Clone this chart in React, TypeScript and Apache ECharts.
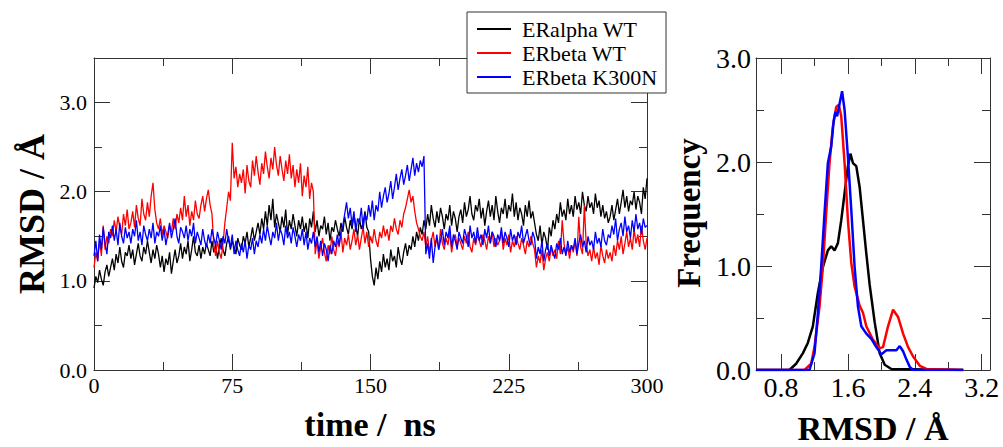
import React, { useEffect, useRef } from 'react';
import * as echarts from 'echarts';

// ---- Time series (RMSD, Å), sampled every TIME_STEP ns from 0 to 300 ns ----
const TIME_STEP = 1;
const seriesNames = ['ERalpha WT', 'ERbeta WT', 'ERbeta K300N'];
const seriesColors = ['#000000', '#ff0000', '#0000ff'];

const eralphaWT = [
  0.92, 1.05, 0.98, 1.12, 1.02, 0.95, 1.10, 1.18, 1.05, 1.15,
  1.25, 1.12, 1.30, 1.20, 1.38, 1.22, 1.15, 1.32, 1.28, 1.40,
  1.25, 1.35, 1.18, 1.30, 1.42, 1.28, 1.22, 1.38, 1.30, 1.45,
  1.32, 1.20, 1.35, 1.25, 1.40, 1.30, 1.15, 1.28, 1.10, 1.25,
  1.18, 1.32, 1.08, 1.22, 1.35, 1.20, 1.28, 1.42, 1.25, 1.38,
  1.30, 1.45, 1.22, 1.35, 1.50, 1.32, 1.28, 1.40, 1.25, 1.38,
  1.30, 1.42, 1.35, 1.28, 1.45, 1.32, 1.40, 1.25, 1.38, 1.48,
  1.35, 1.28, 1.42, 1.50, 1.35, 1.45, 1.38, 1.30, 1.48, 1.40,
  1.35, 1.50, 1.42, 1.55, 1.38, 1.48, 1.60, 1.45, 1.55, 1.65,
  1.52, 1.70, 1.58, 1.78, 1.62, 1.85, 1.68, 1.92, 1.60, 1.75,
  1.65, 1.55, 1.72, 1.60, 1.80, 1.52, 1.68, 1.58, 1.75, 1.62,
  1.50, 1.68, 1.58, 1.72, 1.55, 1.65, 1.48, 1.70, 1.60, 1.78,
  1.55, 1.68, 1.50, 1.62, 1.58, 1.72, 1.52, 1.65, 1.45, 1.60,
  1.55, 1.68, 1.58, 1.50, 1.65, 1.55, 1.72, 1.60, 1.52, 1.68,
  1.58, 1.75, 1.62, 1.50, 1.70, 1.58, 1.65, 1.78, 1.60, 1.55,
  1.25, 1.05, 0.95, 1.15, 1.02, 1.22, 1.10, 1.30, 1.15, 1.25,
  1.12, 1.35, 1.22, 1.28, 1.15, 1.38, 1.25, 1.18, 1.32, 1.42,
  1.28, 1.40, 1.35, 1.50, 1.38, 1.55, 1.45, 1.60, 1.52, 1.68,
  1.58, 1.75, 1.62, 1.85, 1.70, 1.60, 1.78, 1.65, 1.82, 1.72,
  1.58, 1.75, 1.68, 1.85, 1.62, 1.78, 1.70, 1.55, 1.72, 1.80,
  1.65, 1.88, 1.72, 1.80, 1.95, 1.75, 1.68, 1.85, 1.78, 1.92,
  1.70, 1.82, 1.62, 1.78, 1.90, 1.72, 1.85, 1.68, 1.95, 1.78,
  1.65, 1.82, 1.75, 1.92, 1.70, 1.85, 1.78, 1.98, 1.72, 1.88,
  1.68, 1.82, 1.75, 1.62, 1.85, 1.72, 1.90, 1.70, 1.78, 1.65,
  1.52, 1.45, 1.62, 1.40, 1.55, 1.48, 1.35, 1.60, 1.50, 1.68,
  1.58, 1.75, 1.65, 1.88, 1.72, 1.80, 1.68, 1.92, 1.75, 1.85,
  1.72, 1.95, 1.80, 1.88, 1.75, 2.00, 1.85, 1.78, 1.95, 1.82,
  1.88, 1.75, 1.98, 1.82, 1.90, 1.72, 1.85, 1.70, 1.78, 1.65,
  1.72, 1.85, 1.68, 1.80, 1.92, 1.75, 1.88, 2.02, 1.82, 1.95,
  1.78, 1.90, 1.85, 2.00, 1.80, 1.95, 1.88, 1.75, 2.05, 1.92,
  2.15,
];

const erbetaWT = [
  1.15, 1.32, 1.22, 1.45, 1.28, 1.62, 1.35, 1.50, 1.42, 1.58,
  1.50, 1.68, 1.55, 1.72, 1.60, 1.52, 1.75, 1.62, 1.80, 1.58,
  1.65, 1.78, 1.60, 1.85, 1.70, 1.62, 1.92, 1.75, 1.68, 1.88,
  1.72, 1.95, 2.10, 1.80, 1.65, 1.58, 1.70, 1.52, 1.62, 1.55,
  1.48, 1.62, 1.55, 1.70, 1.58, 1.75, 1.65, 1.82, 1.68, 1.95,
  1.72, 1.85, 1.62, 1.78, 1.68, 1.90, 1.75, 1.70, 1.85, 1.95,
  1.78, 1.92, 2.02, 1.85, 1.75, 1.40, 1.28, 1.45, 1.32, 1.25,
  1.42, 1.65, 1.82, 2.00, 1.90, 2.55, 2.15, 2.28, 2.05, 2.20,
  2.10, 2.25, 1.98, 2.30, 2.12, 2.05, 2.35, 2.18, 2.40, 2.22,
  2.08, 2.32, 2.20, 2.45, 2.28, 2.15, 2.38, 2.25, 2.50, 2.30,
  2.18, 2.40, 2.25, 2.12, 2.35, 2.20, 2.42, 2.15, 2.30, 2.05,
  2.25, 2.10, 2.32, 1.95, 2.18, 2.05, 2.28, 1.92, 2.10, 2.00,
  1.30, 1.45, 1.25, 1.38, 1.48, 1.32, 1.22, 1.40, 1.30, 1.50,
  1.35, 1.28, 1.45, 1.38, 1.55, 1.32, 1.48, 1.40, 1.52, 1.35,
  1.45, 1.58, 1.40, 1.52, 1.35, 1.48, 1.60, 1.42, 1.55, 1.38,
  1.50, 1.42, 1.58, 1.45, 1.38, 1.55, 1.48, 1.62, 1.50, 1.58,
  1.45, 1.62, 1.55, 1.70, 1.58, 1.52, 1.68, 1.60, 1.75, 1.82,
  1.92, 2.02, 1.88, 1.95, 1.78, 1.65, 1.58, 1.50, 1.45, 1.55,
  1.38, 1.50, 1.32, 1.45, 1.55, 1.38, 1.48, 1.35, 1.58, 1.42,
  1.35, 1.48, 1.40, 1.55, 1.32, 1.45, 1.52, 1.38, 1.48, 1.42,
  1.35, 1.50, 1.42, 1.55, 1.38, 1.32, 1.48, 1.40, 1.52, 1.45,
  1.38, 1.52, 1.45, 1.35, 1.50, 1.42, 1.55, 1.38, 1.48, 1.40,
  1.45, 1.55, 1.35, 1.48, 1.40, 1.52, 1.32, 1.45, 1.38, 1.50,
  1.42, 1.35, 1.48, 1.40, 1.30, 1.45, 1.38, 1.50, 1.42, 1.35,
  1.15, 1.28, 1.20, 1.35, 1.12, 1.25, 1.32, 1.22, 1.38, 1.28,
  1.35, 1.25, 1.45, 1.30, 1.68, 1.42, 1.30, 1.38, 1.25, 1.40,
  1.32, 1.45, 1.28, 1.72, 1.38, 1.30, 1.85, 1.42, 1.28, 1.35,
  1.22, 1.38, 1.25, 1.32, 1.18, 1.40, 1.28, 1.20, 1.35, 1.25,
  1.32, 1.22, 1.40, 1.28, 1.45, 1.35, 1.50, 1.30, 1.42, 1.55,
  1.38, 1.48, 1.35, 1.58, 1.42, 1.52, 1.38, 1.62, 1.45, 1.35,
  1.48,
];

const erbetaK300N = [
  1.28, 1.45, 1.22, 1.52, 1.35, 1.60, 1.42, 1.30, 1.55, 1.48,
  1.62, 1.45, 1.58, 1.40, 1.65, 1.50, 1.42, 1.60, 1.48, 1.55,
  1.42, 1.58, 1.50, 1.68, 1.45, 1.55, 1.40, 1.62, 1.52, 1.45,
  1.58, 1.48, 1.65, 1.42, 1.55, 1.50, 1.62, 1.45, 1.58, 1.40,
  1.52, 1.65, 1.48, 1.58, 1.70, 1.50, 1.42, 1.60, 1.55, 1.48,
  1.62, 1.45, 1.58, 1.50, 1.65, 1.42, 1.55, 1.48, 1.40, 1.58,
  1.45, 1.38, 1.52, 1.42, 1.58, 1.48, 1.40, 1.55, 1.45, 1.35,
  1.50, 1.42, 1.58, 1.45, 1.38, 1.52, 1.30, 1.45, 1.35, 1.28,
  1.42, 1.32, 1.45, 1.25, 1.40, 1.35, 1.48, 1.30, 1.45, 1.38,
  1.52, 1.42, 1.58, 1.45, 1.62, 1.50, 1.40, 1.55, 1.48, 1.65,
  1.45, 1.58, 1.52, 1.40, 1.62, 1.48, 1.55, 1.42, 1.60, 1.50,
  1.38, 1.52, 1.45, 1.58, 1.40, 1.55, 1.35, 1.48, 1.42, 1.55,
  1.38, 1.50, 1.32, 1.45, 1.28, 1.42, 1.35, 1.22, 1.40, 1.30,
  1.45, 1.38, 1.52, 1.40, 1.55, 1.62, 1.75, 1.88, 1.70, 1.82,
  1.62, 1.78, 1.55, 1.70, 1.65, 1.82, 1.58, 1.75, 1.68, 1.85,
  1.72, 1.90, 1.68, 1.85, 1.78, 2.00, 1.82, 1.95, 2.05, 1.88,
  1.98, 2.12, 1.92, 2.05, 2.20, 2.02, 2.15, 2.25, 2.08, 2.18,
  2.30, 2.12, 2.25, 2.38, 2.18, 2.32, 2.22, 2.35, 2.28, 2.40,
  1.30, 1.42, 1.25, 1.48, 1.20, 1.38, 1.52, 1.35, 1.45, 1.58,
  1.40, 1.55, 1.48, 1.62, 1.38, 1.52, 1.45, 1.35, 1.55, 1.48,
  1.42, 1.58, 1.50, 1.38, 1.62, 1.48, 1.55, 1.42, 1.60, 1.45,
  1.52, 1.40, 1.58, 1.48, 1.62, 1.42, 1.55, 1.50, 1.38, 1.52,
  1.45, 1.60, 1.42, 1.55, 1.48, 1.38, 1.58, 1.45, 1.52, 1.40,
  1.55, 1.48, 1.62, 1.42, 1.50, 1.58, 1.45, 1.40, 1.55, 1.48,
  1.25, 1.38, 1.30, 1.45, 1.22, 1.35, 1.42, 1.28, 1.40, 1.32,
  1.25, 1.42, 1.35, 1.48, 1.30, 1.38, 1.28, 1.45, 1.32, 1.40,
  1.35, 1.48, 1.30, 1.42, 1.52, 1.38, 1.45, 1.32, 1.50, 1.40,
  1.45, 1.35, 1.55, 1.42, 1.48, 1.38, 1.58, 1.45, 1.40, 1.52,
  1.48, 1.62, 1.52, 1.70, 1.45, 1.58, 1.65, 1.50, 1.72, 1.55,
  1.62, 1.48, 1.68, 1.55, 1.75, 1.58, 1.65, 1.52, 1.70, 1.60,
  1.62,
];

// ---- RMSD distributions (Frequency vs RMSD, Å) ----
const alphaDistX = [0.5, 0.9, 0.98, 1.06, 1.12, 1.18, 1.24, 1.30, 1.36, 1.40, 1.44, 1.48, 1.52, 1.56, 1.60, 1.63, 1.66, 1.70, 1.74, 1.78, 1.82, 1.86, 1.92, 1.98, 2.04, 2.12, 2.98];
const alphaDistY = [0, 0, 0.06, 0.16, 0.26, 0.42, 0.74, 0.99, 1.15, 1.19, 1.15, 1.22, 1.44, 1.70, 1.96, 2.08, 1.99, 1.96, 1.76, 1.44, 1.12, 0.82, 0.46, 0.16, 0.05, 0.01, 0];

const betaDistX = [0.5, 1.08, 1.16, 1.20, 1.26, 1.30, 1.34, 1.38, 1.42, 1.46, 1.49, 1.52, 1.56, 1.60, 1.64, 1.68, 1.74, 1.78, 1.82, 1.90, 1.98, 2.02, 2.08, 2.14, 2.20, 2.26, 2.32, 2.38, 2.46, 2.54, 2.98];
const betaDistY = [0, 0, 0.06, 0.22, 0.61, 0.99, 1.51, 1.99, 2.34, 2.53, 2.55, 2.44, 1.99, 1.44, 1.03, 0.80, 0.62, 0.55, 0.42, 0.29, 0.21, 0.22, 0.42, 0.58, 0.51, 0.35, 0.22, 0.13, 0.04, 0.01, 0];

const mutDistX = [0.5, 1.14, 1.20, 1.24, 1.28, 1.32, 1.36, 1.40, 1.43, 1.45, 1.47, 1.50, 1.53, 1.56, 1.60, 1.64, 1.68, 1.72, 1.76, 1.82, 1.88, 1.94, 2.00, 2.06, 2.14, 2.18, 2.22, 2.26, 2.30, 2.34, 2.38, 2.98];
const mutDistY = [0, 0, 0.16, 0.54, 0.99, 1.51, 1.99, 2.15, 2.40, 2.48, 2.44, 2.56, 2.68, 2.50, 2.05, 1.54, 0.99, 0.61, 0.42, 0.35, 0.30, 0.22, 0.15, 0.19, 0.19, 0.19, 0.23, 0.18, 0.10, 0.03, 0, 0];

// ---- Axis ticks ----
const timeMajor = [0, 75, 150, 225, 300];
const timeMinor = [37.5, 112.5, 187.5, 262.5];
const rmsdMajor = [0, 1, 2, 3];
const rmsdMinor = [0.5, 1.5, 2.5];
const distXMajor = [0.8, 1.6, 2.4, 3.2];
const distXMinor = [1.2, 2.0, 2.8];
const freqMajor = [0, 1, 2, 3];
const freqMinor = [0.5, 1.5, 2.5];

const FONT = '"Liberation Serif", "Times New Roman", serif';
const AXIS_COLOR = '#333';

function axisSet(gridIndex: number, min: number, max: number, majors: number[], minors: number[],
  positions: [string, string], fontSize: number, decimals: number, labelMargin: number) {
  const out: any[] = [];
  positions.forEach((pos, pi) => {
    const showLabels = pi === 0;
    out.push({
      type: 'value', gridIndex, min, max, position: pos,
      axisLine: { show: true, onZero: false, lineStyle: { color: AXIS_COLOR, width: 1 } },
      axisTick: { show: true, inside: true, length: 16, customValues: majors, lineStyle: { color: AXIS_COLOR, width: 1 } },
      axisLabel: showLabels
        ? { show: true, customValues: majors, formatter: (v: number) => v.toFixed(decimals), fontFamily: FONT, fontSize, color: '#000', margin: labelMargin }
        : { show: false },
      splitLine: { show: false },
    });
    out.push({
      type: 'value', gridIndex, min, max, position: pos,
      axisLine: { show: false, onZero: false },
      axisTick: { show: true, inside: true, length: 8, customValues: minors, lineStyle: { color: AXIS_COLOR, width: 1 } },
      axisLabel: { show: false },
      splitLine: { show: false },
    });
  });
  return out;
}

export default function App() {
  const ref = useRef<HTMLDivElement>(null);
  useEffect(() => {
    if (!ref.current) return;
    const chart = echarts.init(ref.current, undefined, { renderer: 'svg' });

    const timeSeries = [eralphaWT, erbetaWT, erbetaK300N];
    const distX = [alphaDistX, betaDistX, mutDistX];
    const distY = [alphaDistY, betaDistY, mutDistY];

    const xAxes = [
      ...axisSet(0, 0, 300, timeMajor, timeMinor, ['bottom', 'top'], 22, 0, 4),
      ...axisSet(1, 0.5, 3.3, distXMajor, distXMinor, ['bottom', 'top'], 28, 1, 3),
    ];
    const yAxes = [
      ...axisSet(0, 0, 3.5, rmsdMajor, rmsdMinor, ['left', 'right'], 22, 1, 7),
      ...axisSet(1, 0, 3, freqMajor, freqMinor, ['left', 'right'], 28, 1, 5),
    ];

    const series: any[] = [];
    timeSeries.forEach((vals, i) => {
      series.push({
        name: seriesNames[i], type: 'line', xAxisIndex: 0, yAxisIndex: 0,
        data: vals.map((v, k) => [k * TIME_STEP, v]),
        showSymbol: false, symbol: 'none',
        lineStyle: { color: seriesColors[i], width: 1.3 },
        itemStyle: { color: seriesColors[i] },
        z: 2 + i,
      });
    });
    distX.forEach((xs, i) => {
      series.push({
        name: seriesNames[i], type: 'line', xAxisIndex: 4, yAxisIndex: 4,
        data: xs.map((x, k) => [x, distY[i][k]]),
        showSymbol: false, symbol: 'none',
        lineStyle: { color: seriesColors[i], width: 2.5 },
        itemStyle: { color: seriesColors[i] },
        z: 2 + i,
      });
    });

    chart.setOption({
      animation: false,
      backgroundColor: '#fff',
      grid: [
        { left: 94, top: 58, width: 553, height: 312, show: false },
        { left: 756, top: 58, width: 234, height: 312, show: false },
      ],
      xAxis: xAxes,
      yAxis: yAxes,
      legend: {
        data: seriesNames,
        orient: 'vertical', left: 467, top: 12,
        padding: [6, 9, 5, 10], itemGap: 2, itemWidth: 34, itemHeight: 2, icon: 'rect',
        backgroundColor: '#fff', borderColor: AXIS_COLOR, borderWidth: 1, borderRadius: 0,
        textStyle: { fontFamily: FONT, fontSize: 22, color: '#000', lineHeight: 22, padding: [0, 0, 0, 6] },
        selectedMode: false, z: 10,
      },
      graphic: [
        { type: 'text', x: 32, y: 214, rotation: Math.PI / 2, z: 10,
          style: { text: 'RMSD / Å', font: `bold 36px ${FONT}`, fill: '#000', textAlign: 'center', textVerticalAlign: 'middle' } },
        { type: 'text', x: 370, y: 424, z: 10,
          style: { text: 'time /  ns', font: `bold 34px ${FONT}`, fill: '#000', textAlign: 'center', textVerticalAlign: 'middle' } },
        { type: 'text', x: 689, y: 213, rotation: Math.PI / 2, z: 10,
          style: { text: 'Frequency', font: `bold 33px ${FONT}`, fill: '#000', textAlign: 'center', textVerticalAlign: 'middle' } },
        { type: 'text', x: 873, y: 428, z: 10,
          style: { text: 'RMSD / Å', font: `bold 34px ${FONT}`, fill: '#000', textAlign: 'center', textVerticalAlign: 'middle' } },
      ],
      series,
    });
    return () => chart.dispose();
  }, []);
  return <div ref={ref} style={{ position: 'fixed', left: 0, top: 0, width: 1003, height: 447, background: '#fff' }} />;
}
